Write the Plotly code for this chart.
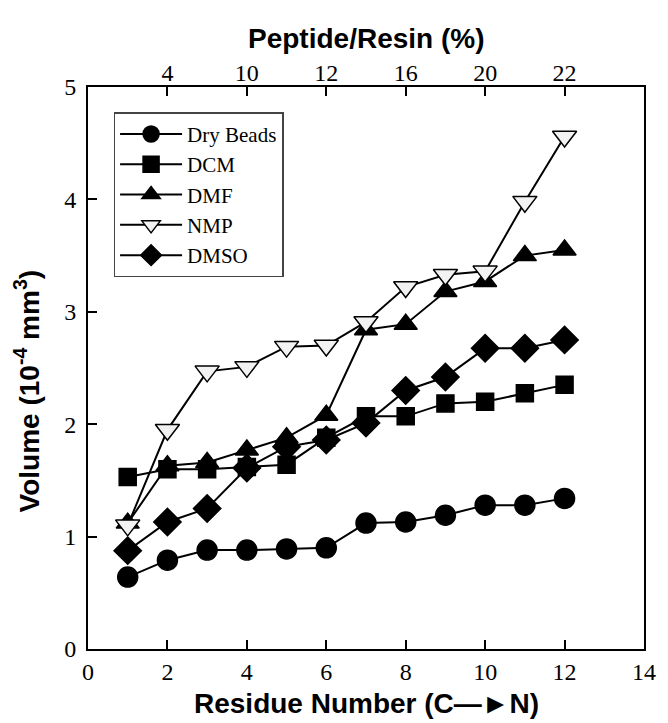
import plotly.graph_objects as go

residues = [1, 2, 3, 4, 5, 6, 7, 8, 9, 10, 11, 12]
dry_beads = [0.64, 0.79, 0.88, 0.88, 0.89, 0.90, 1.12, 1.13, 1.19, 1.28, 1.28, 1.34]
dcm = [1.53, 1.60, 1.60, 1.62, 1.64, 1.88, 2.07, 2.07, 2.185, 2.20, 2.275, 2.35]
dmf = [1.12, 1.63, 1.66, 1.77, 1.88, 2.08, 2.84, 2.89, 3.18, 3.27, 3.50, 3.55]
nmp = [1.10, 1.95, 2.47, 2.51, 2.69, 2.70, 2.91, 3.22, 3.33, 3.36, 3.98, 4.56]
dmso = [0.875, 1.13, 1.25, 1.61, 1.80, 1.86, 2.01, 2.30, 2.42, 2.675, 2.675, 2.75]

top_tick_pos = [2, 4, 6, 8, 10, 12]
top_tick_labels = ["4", "10", "12", "16", "20", "22"]

series = [
    ("Dry Beads", dry_beads, "circle", 20, "black"),
    ("DCM", dcm, "square", 17, "black"),
    ("DMF", dmf, "triangle-up", 20, "black"),
    ("NMP", nmp, "triangle-down", 21, "#f2f2f2"),
    ("DMSO", dmso, "diamond", 21, "black"),
]

fig = go.Figure()
for name, vals, sym, size, fill in series:
    fig.add_trace(go.Scatter(
        x=residues, y=vals, name=name, mode="lines+markers",
        line=dict(color="black", width=2),
        marker=dict(symbol=sym, size=size, color=fill,
                    line=dict(color="black", width=1.5)),
    ))

# invisible trace for top axis
fig.add_trace(go.Scatter(x=[0, 14], y=[0, 0], xaxis="x2", mode="markers",
                         marker=dict(opacity=0), showlegend=False, hoverinfo="skip"))

serif = "Liberation Serif, Times New Roman, serif"
sans = "Liberation Sans, Arial, sans-serif"
title_font = dict(family=sans, size=28, color="black")

fig.update_layout(
    width=668, height=723,
    margin=dict(l=88, r=15, t=87, b=74),
    paper_bgcolor="white", plot_bgcolor="white",
    showlegend=True,
    legend=dict(x=0.046, y=0.955, xanchor="left", yanchor="top",
                bordercolor="#444", borderwidth=1.5, bgcolor="white",
                font=dict(family=serif, size=21, color="black"),
                tracegroupgap=0, itemwidth=62),
    xaxis=dict(range=[0, 14], tickvals=[0, 2, 4, 6, 8, 10, 12, 14],
               ticks="inside", ticklen=9, tickwidth=1.5, tickcolor="black",
               showline=True, linewidth=2, linecolor="black", mirror=False,
               showgrid=False, zeroline=False,
               tickfont=dict(family=serif, size=24, color="black")),
    xaxis2=dict(range=[0, 14], overlaying="x", side="top",
                tickvals=top_tick_pos, ticktext=top_tick_labels,
                ticks="inside", ticklen=9, tickwidth=1.5, tickcolor="black",
                showline=True, linewidth=2, linecolor="black",
                showgrid=False, zeroline=False, ticklabelstandoff=-6,
                tickfont=dict(family=serif, size=24, color="black")),
    yaxis=dict(range=[0, 5], tickvals=[0, 1, 2, 3, 4, 5],
               ticks="inside", ticklen=9, tickwidth=1.5, tickcolor="black",
               showline=True, linewidth=2, linecolor="black", mirror=True,
               showgrid=False, zeroline=False, ticklabelstandoff=5,
               tickfont=dict(family=serif, size=24, color="black")),
    annotations=[
        dict(text="<b>Peptide/Resin (%)</b>", xref="paper", yref="paper",
             x=0.5, y=1.087, xanchor="center", yanchor="middle",
             showarrow=False, font=title_font),
        dict(text="<b>Residue Number (C\u2014\u25BAN)</b>", xref="paper", yref="paper",
             x=0.5, y=-0.097, xanchor="center", yanchor="middle",
             showarrow=False, font=title_font),
        dict(text="<b>Volume (10<sup>-4</sup> mm<sup>3</sup>)</b>", xref="paper", yref="paper",
             x=-0.108, y=0.46, xanchor="center", yanchor="middle", textangle=-90,
             showarrow=False, font=title_font),
    ],
)

fig.write_html("out.html", config={"displayModeBar": False},
               post_script="document.body.style.margin='0';")
